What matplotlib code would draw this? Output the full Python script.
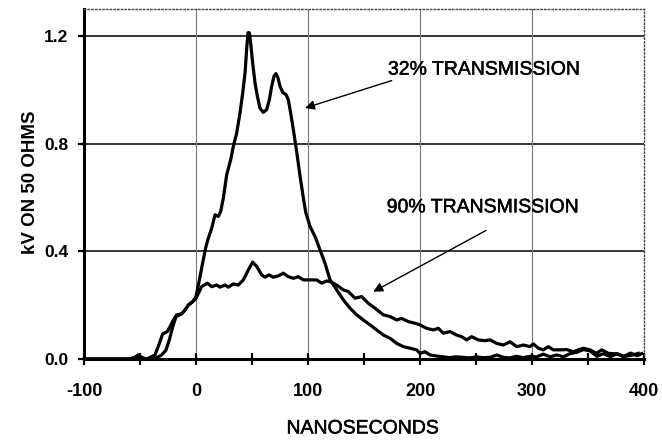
import matplotlib
matplotlib.use("Agg")
import matplotlib.pyplot as plt
import matplotlib.patheffects as pe
from matplotlib.ticker import MultipleLocator

# ---------------------------------------------------------
# Data
# ---------------------------------------------------------
# 32% transmission: tall double-peaked pulse
t_32 = [-100, -80, -60, -50, -45, -42.5, -35, -30.7, -26.8, -23.8, -20.8, -17.9,
        -12.8, -9.8, -6.9, -3, 0, 3.6, 6.5, 8.9, 11, 14, 17, 19.9, 22, 24.4,
        27.4, 31, 33.3, 36.3, 39.3, 41.7, 43.8, 45.2, 46.4, 47.6, 48.8, 50.6,
        52.7, 54.8, 57.1, 60.1, 63.1, 65.5, 67.6, 69.6, 71.4, 73.2, 75, 77.4,
        80.4, 82.4, 84.5, 86.9, 89.9, 92.9, 95.8, 98, 101.8, 106.3, 110.7,
        115.2, 119.6, 125.6, 131.5, 137.5, 143.5, 149.4, 155.4, 161.3, 167.3,
        173.2, 179.2, 185.1, 191.1, 197, 200, 204.5, 208.9, 214.9, 220.8,
        226, 232, 238.7, 244, 250.6, 256, 262.5, 268.5, 274.4, 280, 286.3, 292,
        298.2, 304.2, 310.1, 316.1, 322, 328, 334, 340, 346, 352, 358, 364,
        370, 376, 382, 388, 394, 398]
kv_32 = [0, 0, 0, 0.01, 0, 0, 0.005, 0.015, 0.033, 0.071, 0.12, 0.157,
         0.168, 0.182, 0.2, 0.213, 0.232, 0.306, 0.369, 0.418, 0.449, 0.486,
         0.536, 0.53, 0.548, 0.598, 0.685, 0.741, 0.79, 0.84, 0.915, 0.989,
         1.064, 1.15, 1.213, 1.213, 1.175, 1.1, 1.026, 0.977, 0.933, 0.917,
         0.927, 0.964, 1.014, 1.051, 1.061, 1.045, 1.014, 0.991, 0.983, 0.964,
         0.915, 0.853, 0.77, 0.68, 0.6, 0.545, 0.493, 0.455, 0.406, 0.356,
         0.295, 0.257, 0.22, 0.189, 0.164, 0.145, 0.127, 0.108, 0.089, 0.077,
         0.058, 0.046, 0.04, 0.034, 0.021, 0.027, 0.015, 0.011, 0.008,
         0.005, 0.008, 0.006, 0.004, 0.008, 0.005, 0.006, 0.015, 0.006, 0.004,
         0.01, 0.005, 0.01, 0.008, 0.018, 0.008, 0.015, 0.008, 0.02, 0.025,
         0.035, 0.03, 0.01, 0.02, 0.008, 0.02, 0.01, 0.022, 0.012, 0.02]

# 90% transmission: low, wide pulse with a long tail
t_90 = [-100, -80, -60, -55.9, -51.5, -50, -44, -39.6, -36.6, -32.7, -29.8,
        -25.6, -23.2, -20.2, -17.3, -12.8, -9.8, -6.9, -3, 0, 5.1, 10.1, 14,
        18.5, 21.4, 25.9, 28.9, 33.3, 37.8, 42.3, 46.7, 50.6, 54.2, 58.6, 61.6,
        65.2, 69, 73.5, 78, 82.4, 86.9, 91.4, 95.8, 101.8, 107.7, 112.2, 116.7,
        119.6, 125.6, 131.5, 136, 142, 147.9, 153.9, 159.8, 167.3, 173.2,
        179.2, 183.6, 189.6, 195.5, 200, 206, 211.9, 216.4, 220.8, 226.8,
        232.7, 237.2, 241.7, 246.1, 252.1, 258, 262.5, 268.5, 274.4, 280.4,
        286.3, 292.3, 298.2, 301.2, 305.7, 310.1, 314.6, 319, 325, 331, 336.9,
        341.4, 345.8, 351.8, 357.7, 362.2, 368.2, 375.6, 381.5, 389, 395]
kv_90 = [0, 0, 0, 0.003, 0.015, 0, 0, 0.009, 0.015, 0.058, 0.093,
         0.102, 0.12, 0.145, 0.164, 0.168, 0.182, 0.201, 0.213, 0.226, 0.269,
         0.282, 0.269, 0.275, 0.267, 0.275, 0.267, 0.279, 0.275, 0.294, 0.331,
         0.36, 0.344, 0.313, 0.304, 0.313, 0.304, 0.309, 0.319, 0.306, 0.3,
         0.306, 0.294, 0.294, 0.294, 0.282, 0.29, 0.288, 0.275, 0.257, 0.251,
         0.226, 0.232, 0.207, 0.189, 0.164, 0.158, 0.145, 0.151, 0.139, 0.133,
         0.127, 0.114, 0.108, 0.114, 0.096, 0.102, 0.089, 0.083, 0.071, 0.083,
         0.071, 0.068, 0.071, 0.058, 0.052, 0.064, 0.046, 0.052, 0.046, 0.056,
         0.04, 0.034, 0.046, 0.034, 0.034, 0.035, 0.027, 0.034, 0.04, 0.034,
         0.021, 0.034, 0.021, 0.019, 0.009, 0.014, 0.021]

x_ticks = [-100, 0, 100, 200, 300, 400]
y_ticks = [0.0, 0.4, 0.8, 1.2]

# ---------------------------------------------------------
# Figure
# ---------------------------------------------------------
plt.rcParams['font.family'] = ['Liberation Sans', 'DejaVu Sans']

fig = plt.figure(figsize=(6.62, 4.41), dpi=100)
ax = fig.add_axes([84 / 662, 1 - 359 / 441, 560 / 662, 349.7 / 441])
ax.set_xlim(-100, 400)
ax.set_ylim(0, 1.3)

# grid: dark horizontal lines, faint vertical ones
for y in y_ticks[1:]:
    ax.axhline(y, color='black', lw=1.1, zorder=1)
for x in x_ticks[1:-1]:
    ax.axvline(x, color='#777777', lw=0.8, zorder=1)

ax.plot(t_32, kv_32, color='black', lw=2.3, zorder=3)
ax.plot(t_90, kv_90, color='black', lw=2.3, zorder=3)

# spines
for side in ['left', 'bottom']:
    ax.spines[side].set_linewidth(2.2)
for side in ['top', 'right']:
    ax.spines[side].set_linestyle(':')
    ax.spines[side].set_linewidth(1.0)
    ax.spines[side].set_color('#444444')

# ticks
ax.set_xticks(x_ticks)
ax.set_xticklabels([str(v) for v in x_ticks])
ax.xaxis.set_minor_locator(MultipleLocator(50))
ax.set_yticks(y_ticks)
ax.set_yticklabels(['%.1f' % v for v in y_ticks])
ax.tick_params(axis='x', which='both', direction='inout', length=9, width=1.6,
               pad=13, labelsize=13)
ax.tick_params(axis='y', direction='out', length=4, width=1.6, pad=7,
               labelsize=12.5)
for lab in ax.get_xticklabels() + ax.get_yticklabels():
    lab.set_fontweight('bold')

# scanned text looks a little heavier than plain regular
heavy = [pe.withStroke(linewidth=0.35, foreground='black')]

ax.set_xlabel('NANOSECONDS', fontsize=14, path_effects=heavy)
ax.xaxis.set_label_coords(0.498, -0.2)
ax.xaxis.label.set_va('center')
ax.set_ylabel('kV ON 50 OHMS', fontsize=13.5, fontweight='bold')
ax.yaxis.set_label_coords(-0.0964, 0.506)
ax.yaxis.label.set_va('center')

# annotations
ax.text(171.4, 1.074, '32% TRANSMISSION', fontsize=14, ha='left', va='center',
        path_effects=heavy)
ax.annotate('', xy=(97.3, 0.933), xytext=(174.7, 1.035),
            arrowprops=dict(arrowstyle='-|>', color='black', lw=1.0,
                            mutation_scale=14, shrinkA=0, shrinkB=0))
ax.text(170.3, 0.562, '90% TRANSMISSION', fontsize=14, ha='left', va='center',
        path_effects=heavy)
ax.annotate('', xy=(158.3, 0.25), xytext=(259, 0.478),
            arrowprops=dict(arrowstyle='-|>', color='black', lw=1.0,
                            mutation_scale=14, shrinkA=0, shrinkB=0))

fig.savefig('out.png', dpi=100)
